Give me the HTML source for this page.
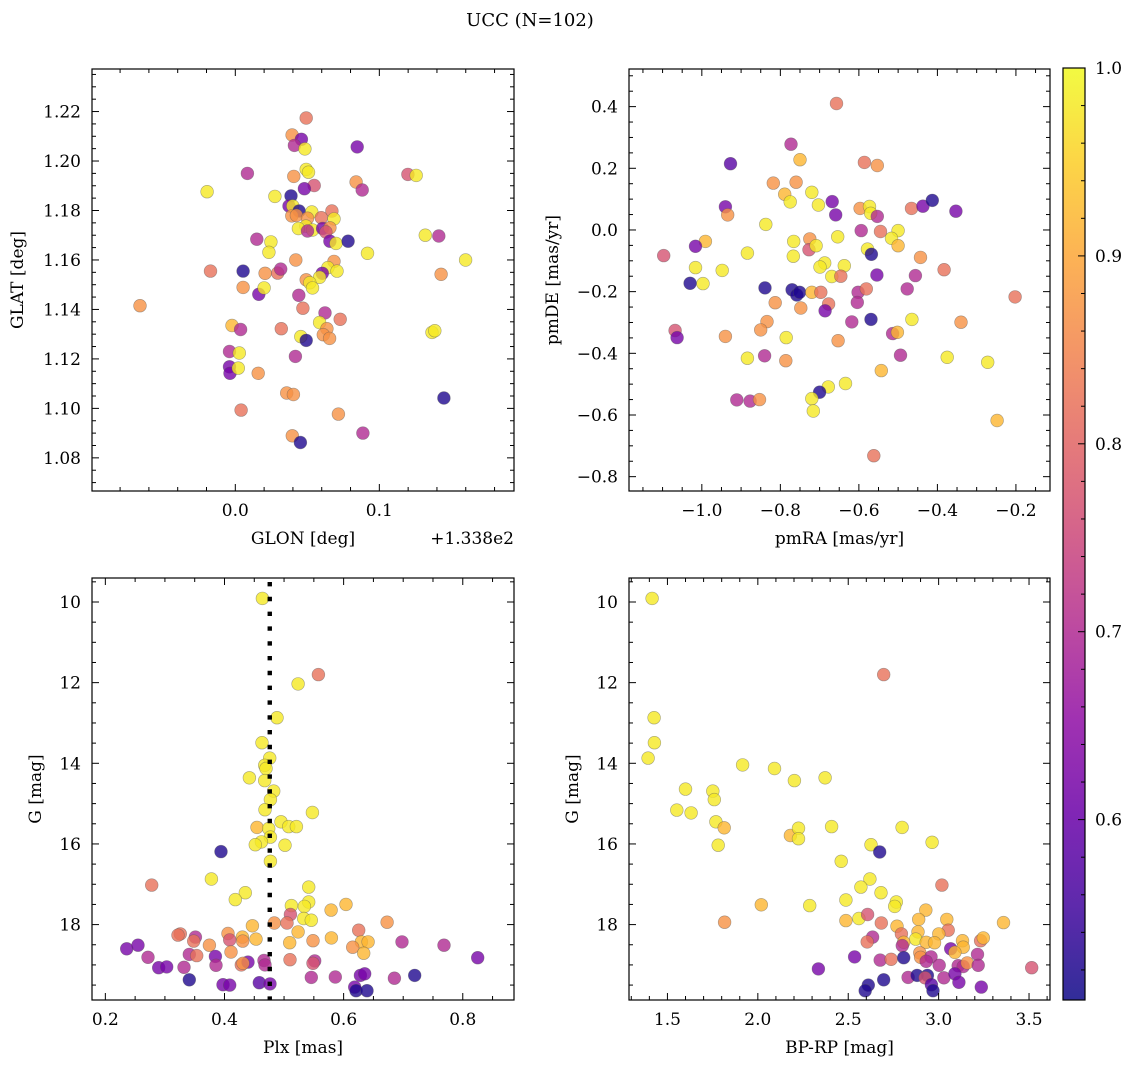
<!DOCTYPE html>
<html><head><meta charset="utf-8"><style>
html,body{margin:0;padding:0;background:#fff}
svg{display:block;font-family:"DejaVu Serif","Liberation Serif",serif}
</style></head><body>
<svg id="fig" width="1135" height="1068" viewBox="0 0 1135 1068">
<text x="530" y="26" font-size="18" text-anchor="middle">UCC (N=102)</text>
</svg>
<script>
// ---------- DATA ----------
const glonOff = [0.0492,0.0394,0.0459,0.041,0.0483,0.0846,0.0084,-0.0196,0.0492,0.0508,0.0406,0.0548,0.048,0.0839,0.0881,0.1198,0.1256,0.0275,0.0387,0.0373,0.0399,0.0443,0.0392,0.0424,0.0531,0.0501,0.0671,0.0597,0.0685,0.049,0.0438,0.0536,0.0501,0.0606,0.0657,0.0629,0.0657,0.0699,0.0783,0.1319,0.1413,0.0918,0.0149,0.0247,0.0233,0.042,0.1599,0.1429,-0.0172,0.0054,0.0207,0.0294,0.0315,0.0685,0.0643,0.0706,0.0604,0.0585,0.0492,0.0517,0.0536,0.0054,0.0163,0.02,0.0441,-0.0662,0.0469,0.0623,0.0728,0.0585,0.0636,0.0611,0.0655,-0.0023,0.0037,0.0319,0.0455,0.0492,0.1366,0.1385,-0.004,0.0028,0.0417,-0.004,-0.0037,0.0021,0.0159,0.0357,0.0403,0.1448,0.004,0.0716,0.0396,0.0452,0.0886];
const glat = [1.2174,1.2105,1.2088,1.2063,1.2049,1.2057,1.195,1.1876,1.1966,1.1955,1.1938,1.1901,1.1888,1.1915,1.1883,1.1946,1.1942,1.1857,1.1859,1.1818,1.1818,1.1798,1.1778,1.178,1.1794,1.1769,1.1798,1.1771,1.1766,1.1737,1.1727,1.1721,1.1717,1.1727,1.173,1.1713,1.1676,1.1667,1.1676,1.17,1.1697,1.1627,1.1684,1.1673,1.1631,1.16,1.16,1.1542,1.1555,1.1555,1.1546,1.1547,1.1563,1.1594,1.1569,1.1555,1.1546,1.153,1.152,1.1508,1.1487,1.1489,1.1461,1.1487,1.1457,1.1415,1.1405,1.1386,1.136,1.1347,1.1322,1.1298,1.1283,1.1335,1.1319,1.1322,1.129,1.1275,1.1307,1.1314,1.123,1.1224,1.121,1.1168,1.1142,1.1163,1.1142,1.1062,1.1056,1.1042,1.0993,1.0977,1.0889,1.0862,1.09];
const prob1 = [.82,.87,.62,.70,.98,.62,.70,.98,.98,.98,.87,.77,.62,.87,.70,.77,.98,.98,.52,.62,.98,.52,.87,.87,.98,.87,.82,.82,.98,.98,.98,.98,.70,.62,.87,.77,.62,.98,.52,.98,.70,.98,.70,.98,.98,.87,.98,.87,.82,.52,.87,.82,.70,.87,.98,.98,.62,.98,.87,.98,.98,.87,.62,.98,.70,.87,.82,.70,.82,.98,.87,.87,.87,.92,.70,.82,.98,.52,.98,.98,.70,.98,.70,.62,.62,.98,.87,.87,.87,.52,.82,.87,.87,.52,.70];

const pmra = [-0.657,-0.773,-0.750,-0.927,-0.586,-0.553,-0.818,-0.760,-0.789,-0.775,-0.720,-0.703,-0.668,-0.659,-0.597,-0.573,-0.570,-0.553,-0.466,-0.437,-0.413,-0.353,-0.940,-0.934,-0.837,-0.991,-1.016,-1.097,-1.016,-0.997,-1.030,-0.948,-0.884,-0.766,-0.767,-0.725,-0.727,-0.709,-0.654,-0.594,-0.545,-0.500,-0.517,-0.500,-0.578,-0.568,-0.443,-0.687,-0.699,-0.637,-0.669,-0.646,-0.554,-0.456,-0.383,-0.839,-0.770,-0.758,-0.751,-0.720,-0.697,-0.602,-0.581,-0.477,-0.813,-0.748,-0.677,-0.686,-0.604,-0.202,-0.834,-0.850,-0.618,-0.569,-0.465,-0.514,-0.502,-0.340,-1.068,-1.063,-0.940,-0.785,-0.653,-0.884,-0.840,-0.786,-0.494,-0.375,-0.272,-0.543,-0.678,-0.634,-0.700,-0.720,-0.716,-0.911,-0.877,-0.853,-0.248,-0.562];
const pmde = [0.41,0.278,0.228,0.215,0.219,0.209,0.152,0.155,0.116,0.091,0.122,0.081,0.092,0.049,0.070,0.076,0.054,0.044,0.070,0.077,0.096,0.061,0.075,0.049,0.018,-0.037,-0.053,-0.083,-0.122,-0.174,-0.173,-0.131,-0.075,-0.037,-0.085,-0.029,-0.064,-0.051,-0.022,-0.002,-0.005,-0.002,-0.027,-0.051,-0.062,-0.079,-0.089,-0.107,-0.120,-0.116,-0.151,-0.150,-0.146,-0.148,-0.129,-0.188,-0.194,-0.211,-0.202,-0.202,-0.202,-0.202,-0.191,-0.191,-0.236,-0.253,-0.240,-0.262,-0.235,-0.217,-0.297,-0.324,-0.298,-0.290,-0.290,-0.336,-0.332,-0.299,-0.326,-0.349,-0.345,-0.349,-0.359,-0.416,-0.408,-0.424,-0.406,-0.413,-0.429,-0.456,-0.509,-0.498,-0.526,-0.547,-0.587,-0.551,-0.555,-0.550,-0.618,-0.732];
const prob2 = [.82,.70,.92,.58,.82,.87,.87,.87,.92,.98,.98,.98,.62,.62,.87,.98,.98,.70,.82,.62,.52,.62,.62,.87,.98,.92,.62,.77,.98,.98,.52,.98,.98,.98,.98,.87,.77,.98,.98,.70,.82,.98,.98,.92,.98,.52,.87,.98,.98,.98,.98,.82,.62,.70,.82,.52,.52,.52,.52,.92,.82,.70,.82,.70,.87,.87,.82,.62,.70,.82,.87,.87,.70,.52,.98,.70,.92,.87,.77,.62,.87,.98,.87,.98,.70,.87,.70,.98,.98,.92,.98,.98,.52,.98,.98,.70,.70,.87,.92,.82];

const plx = [0.4636,0.5576,0.5235,0.4882,0.463,0.4759,0.4675,0.4697,0.4418,0.4675,0.4826,0.477,0.468,0.5475,0.4949,0.5078,0.5207,0.4546,0.4742,0.477,0.4619,0.4518,0.5016,0.477,0.3942,0.2778,0.378,0.435,0.4182,0.5414,0.5414,0.5341,0.5123,0.604,0.5789,0.5106,0.533,0.5458,0.505,0.4837,0.6729,0.4468,0.3259,0.322,0.3511,0.3483,0.4059,0.4087,0.43,0.4305,0.4529,0.3746,0.5235,0.5095,0.5486,0.5794,0.6253,0.6298,0.641,0.6152,0.6337,0.698,0.7685,0.8251,0.2358,0.2548,0.2716,0.341,0.3533,0.3847,0.411,0.3858,0.2895,0.303,0.3321,0.4283,0.4395,0.4311,0.4664,0.468,0.51,0.5514,0.5486,0.341,0.3975,0.4087,0.4585,0.4764,0.5458,0.5861,0.6281,0.6354,0.6852,0.7193,0.6186,0.6209,0.6393];
const gmag3 = [9.91,11.80,12.03,12.87,13.49,13.87,14.05,14.13,14.36,14.43,14.69,14.90,15.15,15.22,15.45,15.57,15.57,15.59,15.62,15.83,15.95,16.02,16.03,16.43,16.19,17.02,16.87,17.21,17.38,17.07,17.44,17.55,17.53,17.50,17.64,17.75,17.85,17.89,17.96,17.96,17.94,18.03,18.23,18.26,18.31,18.41,18.22,18.38,18.31,18.41,18.36,18.51,18.18,18.45,18.40,18.33,18.14,18.43,18.43,18.56,18.71,18.43,18.51,18.82,18.60,18.51,18.81,18.74,18.77,18.79,18.68,19.01,19.07,19.05,19.06,19.00,18.93,18.96,18.89,19.00,18.87,18.90,18.96,19.37,19.49,19.50,19.44,19.47,19.31,19.30,19.26,19.22,19.33,19.26,19.55,19.64,19.64];
const prob3 = [.98,.82,.98,.98,.98,.98,.98,.98,.98,.98,.98,.98,.98,.98,.98,.98,.98,.92,.98,.98,.98,.98,.98,.98,.52,.82,.98,.98,.98,.98,.98,.98,.98,.92,.92,.77,.98,.98,.82,.87,.87,.92,.82,.82,.70,.82,.87,.77,.92,.87,.92,.87,.92,.92,.87,.92,.82,.92,.92,.87,.92,.70,.70,.62,.62,.62,.70,.70,.82,.62,.87,.70,.62,.62,.70,.82,.62,.87,.70,.70,.82,.70,.77,.52,.62,.62,.58,.62,.70,.70,.62,.62,.70,.52,.62,.52,.52];

const bprp = [1.415,2.696,1.426,1.428,1.393,1.916,2.092,2.202,2.372,1.600,1.751,1.759,1.552,1.631,1.768,1.814,2.180,2.225,2.225,2.408,2.798,1.781,2.626,2.674,2.964,2.461,2.620,2.570,2.681,3.018,2.487,2.766,2.757,2.019,2.287,2.929,1.816,2.487,2.559,2.607,2.683,2.890,3.045,3.359,2.770,2.794,3.053,2.886,3.001,2.873,2.931,2.977,2.807,2.635,2.605,2.799,3.132,3.136,3.232,3.247,3.067,3.090,2.896,2.900,2.958,2.931,3.215,2.535,2.677,2.737,2.807,3.003,3.108,3.136,3.158,3.219,3.515,2.335,2.831,2.881,2.938,2.925,3.029,3.090,3.112,3.236,2.696,2.611,2.594,2.960,2.969];
const gmag4 = [9.91,11.80,12.87,13.49,13.87,14.04,14.13,14.43,14.36,14.64,14.69,14.90,15.16,15.23,15.45,15.60,15.79,15.61,15.87,15.57,15.59,16.03,16.02,16.20,15.96,16.43,16.87,17.07,17.21,17.02,17.39,17.44,17.55,17.51,17.53,17.64,17.94,17.90,17.85,17.75,17.96,17.87,17.87,17.95,18.04,18.23,18.14,18.18,18.23,18.36,18.44,18.45,18.44,18.31,18.43,18.52,18.40,18.56,18.40,18.33,18.60,18.69,18.70,18.81,18.80,18.91,18.74,18.80,18.88,18.86,18.82,19.01,19.02,19.04,18.95,19.01,19.07,19.10,19.31,19.26,19.26,19.32,19.32,19.22,19.43,19.55,19.37,19.50,19.64,19.49,19.64];
const prob4 = [.98,.82,.98,.98,.98,.98,.98,.98,.98,.98,.98,.98,.98,.98,.98,.92,.92,.98,.98,.98,.98,.98,.98,.52,.98,.98,.98,.98,.98,.82,.98,.98,.98,.92,.98,.92,.87,.92,.98,.77,.82,.92,.92,.92,.92,.82,.82,.92,.92,.98,.92,.92,.92,.70,.82,.70,.92,.92,.82,.92,.62,.92,.87,.87,.70,.70,.70,.62,.70,.82,.52,.70,.70,.70,.87,.70,.77,.62,.70,.52,.52,.77,.70,.62,.62,.62,.52,.52,.52,.58,.52];

const plxLine = 0.476;
const cbarTicks = [0.6,0.7,0.8,0.9,1.0];
const cbarMin = 0.504, cbarMax = 1.0;

// ---------- helpers ----------
const NS='http://www.w3.org/2000/svg';
const svg=document.getElementById('fig');
const FS=17;
function mk(tag,attrs,parent){const e=document.createElementNS(NS,tag);for(const k in attrs)e.setAttribute(k,attrs[k]);(parent||svg).appendChild(e);return e;}
const stops=[[13,8,135],[65,4,157],[106,0,168],[143,13,164],[177,42,144],[204,71,120],[225,100,98],[242,132,75],[252,166,54],[252,206,37],[240,249,33]];
function plasma(t){t=Math.max(0,Math.min(1,t));const f=t*10,i=Math.min(9,Math.floor(f)),r=f-i;const a=stops[i],b=stops[i+1];
return 'rgb('+a.map((v,k)=>Math.round(v+(b[k]-v)*r)).join(',')+')';}
function col(p){return plasma((p-cbarMin)/(cbarMax-cbarMin));}
function fmt(v,d){return (v<0?'\u2212':'')+Math.abs(v).toFixed(d);}

function panel(o){
  const g=mk('g',{});
  
  
  const sx=v=>o.x0+(v-o.xd[0])/(o.xd[1]-o.xd[0])*(o.x1-o.x0);
  const sy=o.yinv?(v=>o.y0+(v-o.yd[0])/(o.yd[1]-o.yd[0])*(o.y1-o.y0)):(v=>o.y1-(v-o.yd[0])/(o.yd[1]-o.yd[0])*(o.y1-o.y0));
  const pg=mk('g',{},g);
  
  
  const n=Math.min(o.xs.length,o.ys.length,o.ps.length);
  for(let i=0;i<n;i++){
    const c=mk('circle',{cx:sx(o.xs[i]).toFixed(1),cy:sy(o.ys[i]).toFixed(1),r:6.4,fill:col(o.ps[i]),'fill-opacity':0.8,stroke:'#555','stroke-opacity':0.5,'stroke-width':0.6},pg);
    
    
  }
  if(o.extra) o.extra(g,sx,sy);
  const fr=mk('rect',{x:o.x0,y:o.y0,width:o.x1-o.x0,height:o.y1-o.y0,fill:'none',stroke:'#000','stroke-width':1.2},g);
  
  
  const tk=mk('g',{stroke:'#000','stroke-width':1},g);
  
  
  const eps=1e-9;
  for(let v=Math.ceil(o.xd[0]/o.xmin-eps)*o.xmin; v<=o.xd[1]+eps; v+=o.xmin){
    const isMaj=Math.abs(v/o.xmaj-Math.round(v/o.xmaj))<1e-6;const L=isMaj?7:4;const x=sx(v);
    mk('line',{x1:x,x2:x,y1:o.y1,y2:o.y1-L},tk);mk('line',{x1:x,x2:x,y1:o.y0,y2:o.y0+L},tk);
  }
  for(let v=Math.ceil(o.yd[0]/o.ymin-eps)*o.ymin; v<=o.yd[1]+eps; v+=o.ymin){
    const isMaj=Math.abs(v/o.ymaj-Math.round(v/o.ymaj))<1e-6;const L=isMaj?7:4;const y=sy(v);
    mk('line',{x1:o.x0,x2:o.x0+L,y1:y,y2:y},tk);mk('line',{x1:o.x1,x2:o.x1-L,y1:y,y2:y},tk);
  }
  o.xticks.forEach(v=>{const t=mk('text',{x:sx(v),y:o.y1+25,'font-size':FS,'text-anchor':'middle'},g);t.textContent=fmt(v,o.xdec);
    });
  o.yticks.forEach(v=>{const t=mk('text',{x:o.x0-11,y:sy(v)+6,'font-size':FS,'text-anchor':'end'},g);t.textContent=fmt(v,o.ydec);
    });
  const xl=mk('text',{x:(o.x0+o.x1)/2,y:o.y1+53,'font-size':FS,'text-anchor':'middle'},g);xl.textContent=o.xlabel;
  
  const yx=o.ylx, yy=(o.y0+o.y1)/2;
  const yl=mk('text',{x:yx,y:yy,'font-size':FS,'text-anchor':'middle',transform:'rotate(-90 '+yx+' '+yy+')'},g);yl.textContent=o.ylabel;
  
}

panel({name:'glon-glat-panel',x0:92,x1:514,y0:69,y1:491,xd:[-0.0995,0.1935],yd:[1.0666,1.2372],xs:glonOff,ys:glat,ps:prob1,
  xmaj:0.1,xmin:0.02,ymaj:0.02,ymin:0.005,xticks:[0.0,0.1],yticks:[1.08,1.10,1.12,1.14,1.16,1.18,1.20,1.22],xdec:1,ydec:2,
  xlabel:'GLON [deg]',ylabel:'GLAT [deg]',ylx:23});
{const t=mk('text',{x:514,y:544,'font-size':FS,'text-anchor':'end'});t.textContent='+1.338e2';
 }

panel({name:'pm-panel',x0:629,x1:1050,y0:69,y1:491,xd:[-1.1855,-0.1132],yd:[-0.8465,0.522],xs:pmra,ys:pmde,ps:prob2,
  xmaj:0.2,xmin:0.05,ymaj:0.2,ymin:0.05,xticks:[-1.0,-0.8,-0.6,-0.4,-0.2],yticks:[-0.8,-0.6,-0.4,-0.2,0.0,0.2,0.4],xdec:1,ydec:1,
  xlabel:'pmRA [mas/yr]',ylabel:'pmDE [mas/yr]',ylx:558});

panel({name:'plx-g-panel',x0:92,x1:514,y0:578,y1:1000,xd:[0.1776,0.886],yd:[9.405,19.87],yinv:true,xs:plx,ys:gmag3,ps:prob3,
  xmaj:0.2,xmin:0.05,ymaj:2,ymin:0.5,xticks:[0.2,0.4,0.6,0.8],yticks:[10,12,14,16,18],xdec:1,ydec:0,
  xlabel:'Plx [mas]',ylabel:'G [mag]',ylx:41,
  extra:(g,sx,sy)=>{const l=mk('line',{x1:sx(plxLine),x2:sx(plxLine),y1:582,y2:1000,stroke:'#000','stroke-width':4.4,'stroke-dasharray':'4.4 10.4'},g);
    }});

panel({name:'cmd-panel',x0:629,x1:1050,y0:578,y1:1000,xd:[1.2874,3.616],yd:[9.405,19.87],yinv:true,xs:bprp,ys:gmag4,ps:prob4,
  xmaj:0.5,xmin:0.1,ymaj:2,ymin:0.5,xticks:[1.5,2.0,2.5,3.0,3.5],yticks:[10,12,14,16,18],xdec:1,ydec:0,
  xlabel:'BP-RP [mag]',ylabel:'G [mag]',ylx:578});

// colorbar
{
  const cg=mk('g',{});
  
  
  const defs=mk('defs',{},cg);
  const lg=mk('linearGradient',{id:'pl',x1:0,y1:1,x2:0,y2:0},defs);
  for(let i=0;i<=20;i++){mk('stop',{offset:(i/20),'stop-color':plasma(i/20),'stop-opacity':0.85},lg);}
  const X0=1063,X1=1085,Y0=68,Y1=1000;
  mk('rect',{x:X0,y:Y0,width:X1-X0,height:Y1-Y0,fill:'url(#pl)',stroke:'#000','stroke-width':1.2},cg);
  const cy=v=>Y1-(v-cbarMin)/(cbarMax-cbarMin)*(Y1-Y0);
  for(let v=0.52;v<=1.0001;v+=0.02){const y=cy(v);const maj=Math.abs(v*10-Math.round(v*10))<1e-6;
    mk('line',{x1:X1,x2:X1-(maj?7:4),y1:y,y2:y,stroke:'#000','stroke-width':1},cg);}
  cbarTicks.forEach(v=>{const t=mk('text',{x:X1+10,y:cy(v)+6,'font-size':FS},cg);t.textContent=v.toFixed(1);
    });
}
</script>
</body></html>
